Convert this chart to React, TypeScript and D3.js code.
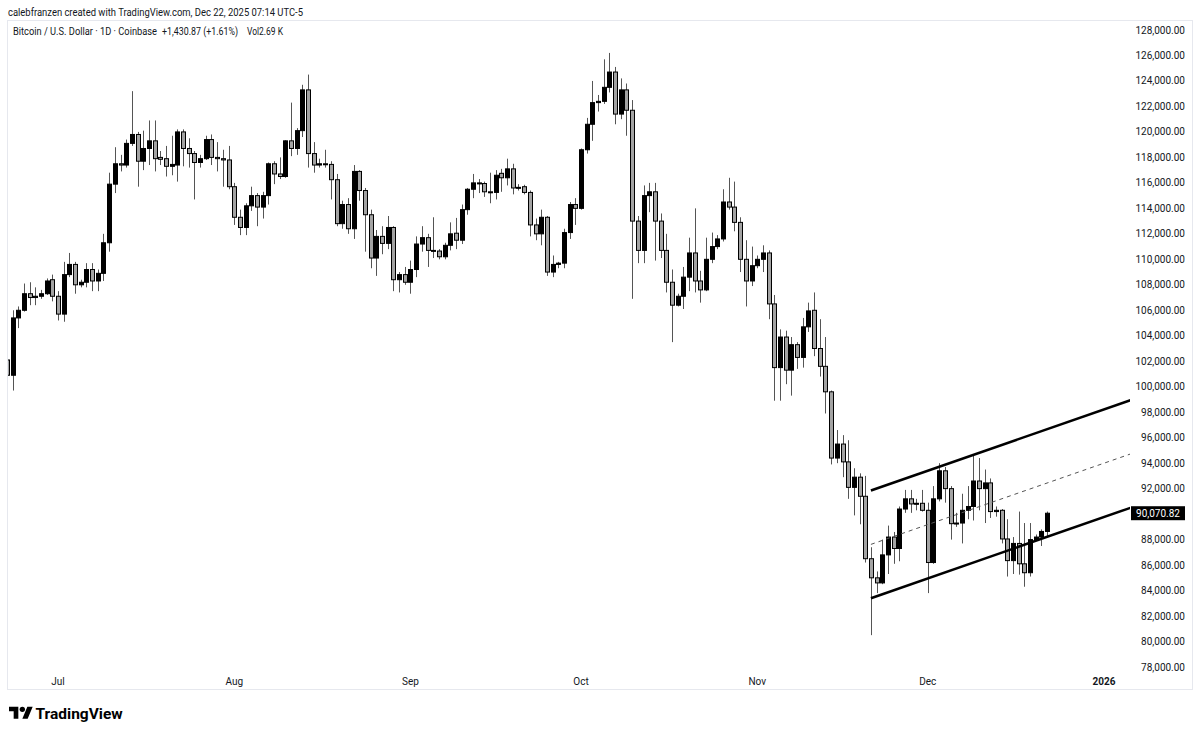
import React from "react";
import * as d3 from "d3";

// Daily OHLC, BTC/USD Coinbase, values in thousands of USD: [open, high, low, close]
const junStart = "2025-06-22";
const junBars = [
  [102.1, 103.1, 98.2, 100.9], [100.9, 106.0, 99.7, 105.4], [105.4, 106.3, 104.6, 106.0],
  [106.0, 108.1, 105.9, 107.3], [107.3, 108.2, 106.4, 107.0], [107.0, 107.8, 106.4, 107.1],
  [107.1, 107.6, 106.9, 107.3], [107.3, 108.5, 107.2, 108.3], [108.4, 108.8, 106.7, 107.1],
];
const julStart = "2025-07-01";
const julBars = [
  [107.1, 107.5, 105.2, 105.7], [105.7, 109.8, 105.1, 108.8], [108.8, 110.5, 108.6, 109.6],
  [109.6, 109.8, 107.3, 108.0], [108.0, 108.4, 107.8, 108.2], [108.2, 109.7, 107.8, 109.2],
  [109.2, 109.7, 107.5, 108.3], [108.3, 109.2, 107.5, 108.9], [108.9, 112.0, 108.3, 111.3],
  [111.3, 116.8, 110.6, 115.9], [115.9, 118.8, 115.2, 117.5], [117.5, 118.2, 116.9, 117.4],
  [117.4, 119.4, 117.2, 119.1], [119.1, 123.2, 118.9, 119.8], [119.8, 120.0, 115.7, 117.7],
  [117.7, 120.1, 117.0, 118.7], [118.7, 120.9, 117.4, 119.3], [119.3, 120.9, 116.9, 117.9],
  [118.0, 118.5, 117.4, 117.85], [117.9, 118.9, 116.5, 117.3], [117.3, 119.7, 116.6, 117.45],
  [117.4, 120.2, 116.1, 120.0], [120.0, 120.2, 117.3, 118.7], [118.7, 119.5, 117.2, 118.3],
  [118.3, 118.5, 114.7, 117.6], [117.6, 118.2, 117.2, 117.9], [117.9, 119.7, 117.8, 119.4],
  [119.4, 119.8, 117.4, 118.0], [118.0, 119.2, 116.9, 117.9], [117.9, 118.6, 115.7, 117.8],
  [117.8, 118.9, 115.5, 115.7],
];
const augStart = "2025-08-01";
const augBars = [
  [115.7, 116.0, 112.7, 113.3], [113.3, 113.9, 111.9, 112.5], [112.5, 114.4, 111.9, 114.2],
  [114.2, 115.7, 113.8, 115.0], [115.0, 115.2, 112.6, 114.1], [114.1, 115.3, 113.2, 115.0],
  [115.0, 117.6, 114.3, 117.5], [117.5, 117.7, 115.9, 116.7], [116.7, 118.0, 116.3, 116.5],
  [116.5, 119.35, 116.4, 119.3], [119.3, 122.3, 118.1, 118.7], [118.7, 120.3, 118.2, 120.1],
  [120.1, 123.7, 119.6, 123.3], [123.3, 124.5, 117.2, 118.3], [118.3, 119.2, 116.8, 117.4],
  [117.4, 117.9, 117.2, 117.5], [117.5, 118.6, 117.2, 117.45], [117.45, 117.7, 114.7, 116.25],
  [116.25, 116.7, 112.6, 112.8], [112.8, 114.6, 112.4, 114.3], [114.3, 114.8, 112.0, 112.4],
  [112.4, 117.4, 111.6, 116.9], [116.9, 117.0, 114.6, 115.4], [115.4, 115.6, 110.6, 113.5],
  [113.5, 113.9, 109.3, 110.1], [110.1, 112.3, 108.7, 111.8], [111.8, 112.6, 110.4, 111.25],
  [111.25, 113.4, 110.8, 112.5], [112.5, 112.6, 107.5, 108.4], [108.4, 109.0, 107.4, 108.8],
  [108.8, 109.4, 108.0, 108.2],
];
const sepStart = "2025-09-01";
const sepBars = [
  [108.2, 109.9, 107.3, 109.2], [109.2, 111.8, 108.6, 111.2], [111.2, 112.6, 110.6, 111.7],
  [111.7, 112.0, 109.4, 110.7], [110.7, 113.3, 110.1, 110.65], [110.65, 110.8, 110.0, 110.2],
  [110.2, 111.3, 110.0, 111.1], [111.1, 112.9, 110.7, 112.0], [112.05, 113.25, 110.8, 111.5],
  [111.5, 114.3, 111.2, 113.9], [113.9, 115.6, 113.5, 115.5], [115.5, 116.7, 114.8, 116.0],
  [116.0, 116.3, 115.2, 115.95], [115.95, 116.1, 114.9, 115.3], [115.3, 116.8, 114.4, 115.25],
  [115.25, 117.0, 114.7, 116.6], [116.75, 117.1, 115.3, 116.4], [116.4, 117.9, 115.8, 117.1],
  [117.1, 117.5, 115.1, 115.6], [115.6, 115.9, 115.4, 115.65], [115.7, 115.85, 115.1, 115.25],
  [115.25, 115.4, 111.8, 112.7], [112.7, 113.2, 111.5, 112.0], [112.0, 113.9, 111.1, 113.3],
  [113.3, 113.4, 108.7, 109.0], [109.0, 110.3, 108.6, 109.6], [109.6, 109.8, 109.3, 109.7],
  [109.7, 112.4, 109.3, 112.1], [112.1, 114.5, 111.6, 114.3], [114.3, 114.8, 112.7, 114.0],
];
const octStart = "2025-10-01";
const octBars = [
  [114.0, 118.7, 113.9, 118.6], [118.6, 121.1, 118.3, 120.6], [120.6, 124.0, 119.3, 122.3],
  [122.3, 122.9, 121.6, 122.4], [122.4, 125.7, 122.2, 123.5], [123.5, 126.2, 123.1, 124.7],
  [124.7, 125.1, 120.6, 121.4], [121.4, 124.2, 121.0, 123.3], [123.3, 123.8, 119.7, 121.7],
  [121.7, 122.5, 106.9, 113.0], [113.0, 113.4, 109.7, 110.7], [110.7, 115.8, 109.7, 115.0],
  [115.0, 116.0, 113.7, 115.3], [115.3, 116.0, 109.9, 113.0], [113.0, 113.6, 110.1, 110.7],
  [110.7, 112.0, 107.4, 108.2], [108.2, 109.2, 103.5, 106.4], [106.4, 107.3, 106.3, 107.1],
  [107.1, 109.4, 106.1, 108.6], [108.6, 111.7, 107.5, 110.5], [110.5, 114.0, 107.4, 108.3],
  [108.3, 109.1, 106.6, 107.6], [107.6, 111.7, 107.5, 110.0], [110.0, 112.1, 109.7, 111.0],
  [111.0, 111.9, 110.8, 111.6], [111.6, 115.5, 111.4, 114.5], [114.5, 116.4, 113.9, 114.1],
  [114.1, 116.1, 112.2, 112.9], [112.9, 113.3, 109.0, 110.0], [110.0, 111.5, 106.3, 108.3],
  [108.3, 111.0, 107.9, 109.5],
];
const novStart = "2025-11-01";
const novBars = [
  [109.5, 110.3, 109.3, 110.0], [110.0, 111.1, 109.0, 110.5], [110.5, 110.7, 105.3, 106.5],
  [106.5, 107.2, 98.9, 101.5], [101.5, 104.5, 98.9, 103.9], [103.9, 104.4, 100.2, 101.3],
  [101.3, 103.9, 99.3, 103.3], [103.3, 103.5, 101.4, 102.3], [102.3, 105.4, 101.5, 104.7],
  [104.7, 106.6, 104.3, 105.95], [106.0, 107.4, 102.4, 103.0], [103.0, 105.3, 100.8, 101.6],
  [101.6, 103.9, 97.9, 99.6], [99.6, 99.7, 93.9, 94.4], [94.4, 96.6, 94.0, 95.5],
  [95.5, 96.2, 92.9, 94.1], [94.1, 95.8, 91.2, 92.1], [92.1, 93.6, 89.9, 92.9],
  [92.9, 93.2, 89.2, 91.4], [91.4, 93.0, 86.2, 86.5], [86.5, 87.4, 80.5, 85.0],
  [85.0, 85.5, 83.8, 84.6], [84.6, 88.0, 84.5, 86.8], [86.8, 89.1, 85.3, 88.2],
  [88.2, 88.6, 86.1, 87.3], [87.3, 90.6, 86.3, 90.4], [90.4, 91.9, 90.1, 91.2],
  [91.2, 91.9, 90.1, 90.8], [90.8, 91.2, 90.3, 90.85], [90.85, 91.9, 90.2, 90.3],
];
const decStart = "2025-12-01";
const decBars = [
  [90.3, 90.9, 83.8, 86.2], [86.2, 92.2, 86.1, 91.2], [91.2, 94.0, 91.0, 93.4],
  [93.4, 93.7, 90.9, 92.0], [92.0, 92.2, 88.0, 89.25], [89.25, 90.1, 89.0, 89.3],
  [89.3, 91.6, 87.7, 90.3], [90.3, 92.2, 89.6, 90.6], [90.6, 94.6, 89.5, 92.6],
  [92.6, 94.4, 90.3, 92.0], [92.0, 93.5, 89.3, 92.45], [92.45, 92.8, 89.7, 90.2],
  [90.2, 90.6, 89.8, 90.3], [90.3, 90.4, 87.7, 88.05], [88.05, 89.6, 85.1, 86.35],
  [86.35, 88.2, 85.3, 87.7], [87.7, 90.2, 85.25, 86.1], [86.1, 89.3, 84.3, 85.4],
  [85.4, 89.3, 85.1, 88.0], [88.0, 88.4, 87.9, 88.2], [88.2, 88.8, 87.5, 88.64],
  [88.64, 90.2, 88.2, 90.07],
];

// Channel drawn on the chart: [date, upper, lower] (thousands USD)
const channelStart = ["2025-11-21", 91.85, 83.4];
const channelEnd = ["2026-01-06", 99.0, 90.55];

const priceTicks = [78, 80, 82, 84, 86, 88, 90, 92, 94, 96, 98, 100, 102, 104, 106, 108, 110, 112, 114, 116, 118, 120, 122, 124, 126, 128];
const monthTickDates = ["2025-07-01", "2025-08-01", "2025-09-01", "2025-10-01", "2025-11-01", "2025-12-01", "2026-01-01"];
const monthTickLabels = ["Jul", "Aug", "Sep", "Oct", "Nov", "Dec", "2026"];
const lastPrice = 90070.82;

const monthGroups: [string, number[][]][] = [
  [junStart, junBars], [julStart, julBars], [augStart, augBars], [sepStart, sepBars],
  [octStart, octBars], [novStart, novBars], [decStart, decBars],
];

const parse = (s: string) => new Date(s + "T00:00:00Z");

export default function App() {
  const W = 1200, H = 734;
  const plotL = 8, plotR = 1130, plotT = 21, plotB = 670;

  const bars = monthGroups.flatMap(([start, arr]) =>
    arr.map((b, k) => ({ date: d3.utcDay.offset(parse(start), k), o: b[0], h: b[1], l: b[2], c: b[3] }))
  );

  const x = d3.scaleUtc()
    .domain([parse("2025-06-23"), parse("2025-12-22")])
    .range([12.5, 12.5 + 182 * 5.685]);
  const y = d3.scaleLinear().domain([78, 128]).range([667, 30]);

  const fmt = d3.format(",.2f");
  const font = "Roboto, 'Liberation Sans', Arial, sans-serif";

  const cs = parse(channelStart[0] as string), ce = parse(channelEnd[0] as string);
  const chLine = d3.line<[Date, number]>().x(d => x(d[0])).y(d => y(d[1]));
  const upper = chLine([[cs, channelStart[1] as number], [ce, channelEnd[1] as number]]);
  const lower = chLine([[cs, channelStart[2] as number], [ce, channelEnd[2] as number]]);
  const mid = chLine([
    [cs, ((channelStart[1] as number) + (channelStart[2] as number)) / 2],
    [ce, ((channelEnd[1] as number) + (channelEnd[2] as number)) / 2],
  ]);
  const yLast = y(lastPrice / 1000);

  return (
    <svg width={W} height={H} style={{ position: "absolute", left: 0, top: 0, background: "#fff" }} fontFamily={font}>
      <defs>
        <clipPath id="plot">
          <rect x={plotL} y={plotT} width={plotR - plotL} height={plotB - plotT} />
        </clipPath>
      </defs>
      <rect x={0} y={0} width={W} height={H} fill="#fff" />
      <text x={8} y={15.5} fontSize={10} fill="#131722" textLength={295} lengthAdjust="spacingAndGlyphs">calebfranzen created with TradingView.com, Dec 22, 2025 07:14 UTC-5</text>
      <rect x={7.5} y={20.5} width={1185} height={669} fill="none" stroke="#e6e8ee" strokeWidth={1} />
      <text x={13} y={35} fontSize={10} fill="#131722" textLength={144} lengthAdjust="spacingAndGlyphs">Bitcoin / U.S. Dollar · 1D · Coinbase</text>
      <text x={162} y={35} fontSize={10} fill="#131722" textLength={76} lengthAdjust="spacingAndGlyphs">+1,430.87 (+1.61%)</text>
      <text x={247} y={35} fontSize={10} fill="#131722" textLength={36} lengthAdjust="spacingAndGlyphs">Vol2.69 K</text>

      <g clipPath="url(#plot)">
        {bars.map((b, i) => {
          const cx = Math.round(x(b.date));
          const up = b.c >= b.o;
          const top = y(Math.max(b.o, b.c));
          const bot = y(Math.min(b.o, b.c));
          const hgt = Math.max(1, bot - top);
          return (
            <g key={i}>
              <line x1={cx + 0.5} x2={cx + 0.5} y1={y(b.h)} y2={y(b.l)} stroke="#555" strokeWidth={1} />
              <rect x={cx - 1.5} y={top} width={4} height={hgt} fill={up ? "#000" : "#a3a3a3"} stroke="#000" strokeWidth={1} />
            </g>
          );
        })}
        <path d={upper || ""} stroke="#000" strokeWidth={2.5} fill="none" />
        <path d={lower || ""} stroke="#000" strokeWidth={2.5} fill="none" />
        <path d={mid || ""} stroke="#555" strokeWidth={1} strokeDasharray="4,4" fill="none" />
      </g>

      {priceTicks.filter(v => Math.abs(y(v) - yLast) > 10).map(v => (
        <text key={v} x={1185} y={y(v) + 3.5} fontSize={10} fill="#131722" textAnchor="end">{fmt(v * 1000)}</text>
      ))}
      <rect x={1131} y={yLast - 7} width={54} height={14} fill="#000" />
      <text x={1158} y={yLast + 3.5} fontSize={10} fill="#fff" textAnchor="middle">{fmt(lastPrice)}</text>

      {monthTickDates.map((d, i) => (
        <text key={d} x={x(parse(d))} y={685} fontSize={10} fill="#131722" textAnchor="middle"
          fontWeight={monthTickLabels[i] === "2026" ? 700 : 400}>{monthTickLabels[i]}</text>
      ))}

      <g transform="translate(9,704) scale(0.667)" fill="#000">
        <path d="M14 22H7V11H0V4h14v18zM28 22h-8l7.5-18h8L28 22z" />
        <circle cx={20} cy={8} r={4} />
      </g>
      <text x={35.5} y={718.5} fontSize={15.5} fontWeight={700} fill="#000">TradingView</text>
    </svg>
  );
}
